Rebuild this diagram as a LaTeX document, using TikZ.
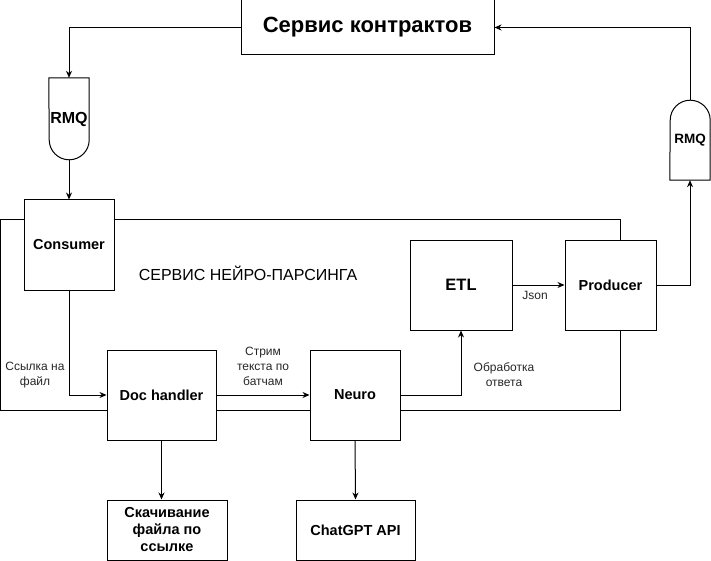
\documentclass[tikz,border=0pt]{standalone}
\usepackage{fontspec}
\setmainfont{Liberation Sans}
\usetikzlibrary{arrows.meta}
\begin{document}
\begin{tikzpicture}[x=1pt,y=-1pt,
 box/.style={draw, fill=white, line width=1pt, inner sep=0pt, align=center, font=\bfseries\fontsize{14.5}{17}\selectfont},
 plain/.style={inner sep=0pt, align=center, font=\bfseries\fontsize{16}{19}\selectfont},
 lbl/.style={font=\fontsize{12}{15}\selectfont, align=center, text=black!85},
 conn/.style={draw, line width=1pt, -{Stealth[length=7pt,width=6pt]}},
 outline/.style={draw, line width=1pt}
]
\useasboundingbox (0,0) rectangle (711,561);
% container of the neuro-parsing service
\draw[outline] (0,220) rectangle (620,410);
\node[lbl, font=\fontsize{16}{19}\selectfont, text=black] (svc) at (248,273) {СЕРВИС НЕЙРО-ПАРСИНГА};

\node[box, minimum width=253pt, minimum height=55pt, font=\bfseries\fontsize{22}{26}\selectfont] (top) at (367.5,27.5) {Сервис контрактов};
\node[plain, minimum width=40pt, minimum height=82pt] (rmq1) at (69,119) {RMQ};
\node[plain, minimum width=40pt, minimum height=80pt, font=\bfseries\fontsize{13.5}{16}\selectfont] (rmq2) at (690,140) {RMQ};
\draw[outline] (rmq1.north west) -- (rmq1.north east) -- ++(0,62)
  .. controls +(0,11.05) and +(11.05,0) .. ++(-20,20)
  .. controls +(-11.05,0) and +(0,11.05) .. ++(-20,-20) -- cycle;
\draw[outline] (rmq2.south west) -- (rmq2.south east) -- ++(0,-60)
  .. controls +(0,-11.05) and +(11.05,0) .. ++(-20,-20)
  .. controls +(-11.05,0) and +(0,-11.05) .. ++(-20,20) -- cycle;

\node[box, minimum width=90pt, minimum height=90pt] (consumer) at (69,245) {Consumer};
\node[box, minimum width=102pt, minimum height=90pt, font=\bfseries\fontsize{16.5}{19}\selectfont] (etl) at (461,285) {ETL};
\node[box, minimum width=91pt, minimum height=90pt] (prod) at (610.5,285) {Producer};
\node[box, minimum width=109pt, minimum height=90pt] (doc) at (161.5,395) {Doc handler};
\node[box, minimum width=90pt, minimum height=90pt] (neuro) at (355,395) {Neuro};
\node[box, minimum width=120pt, minimum height=60pt] (dl) at (167,530) {Скачивание\\файла по\\ссылке};
\node[box, minimum width=119pt, minimum height=60pt] (chat) at (355.5,530) {ChatGPT API};

\draw[conn] (top.west) -| (rmq1.north);
\draw[conn] (rmq1.south) -- (consumer.north);
\draw[conn] (consumer.south) |- (doc.west);
\draw[conn] (doc.east) -- (neuro.west);
\draw[conn] (neuro.east) -| (etl.south);
\draw[conn] (etl.east) -- (prod.west);
\draw[conn] (prod.east) -| (rmq2.south);
\draw[conn] (rmq2.north) |- (top.east);
\draw[conn] (doc.south) -- (doc.south |- dl.north);
\draw[conn] (neuro.south) -- (chat.north);

\node[lbl] (l1) at (35,375) {Ссылка на\\файл};
\node[lbl] (l2) at (263,366) {Стрим\\текста по\\батчам};
\node[lbl] (l3) at (535,295) {Json};
\node[lbl] (l4) at (504,375) {Обработка\\ответа};
\end{tikzpicture}
\end{document}
